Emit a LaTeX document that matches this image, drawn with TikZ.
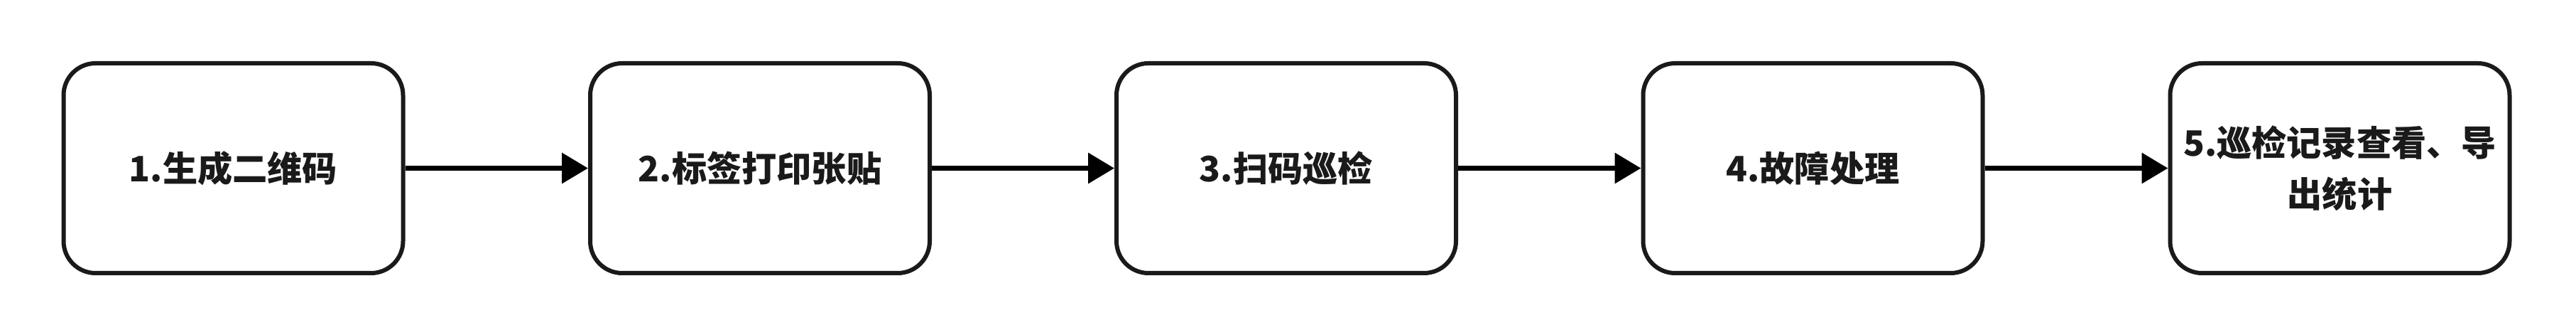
\documentclass[tikz,border=0pt]{standalone}
\usepackage{fontspec}
\setmainfont{Noto Sans CJK SC}
\usepackage{tikz}
\usetikzlibrary{arrows.meta, positioning}
\definecolor{boxline}{RGB}{26, 26, 26}

\begin{document}
\begin{tikzpicture}[
  stage/.style={draw=boxline, line width=0.06cm, rounded corners=0.45cm, fill=white,
                minimum width=4.78cm, minimum height=2.95cm, inner sep=2pt,
                text width=4.5cm, align=center, font=\fontsize{14}{20.5}\selectfont\bfseries,
                text=boxline},
  flow/.style={-{Triangle[length=0.37cm, width=0.42cm]}, line width=0.07cm, black},
]
\useasboundingbox (0,0) rectangle (36.27,4.71);

\node[stage] (gen)   at (3.285, 2.345) {1.生成二维码};
\node[stage] (label) at (10.700, 2.345) {2.标签打印张贴};
\node[stage] (scan)  at (18.110, 2.345) {3.扫码巡检};
\node[stage] (fault) at (25.525, 2.345) {4.故障处理};
\node[stage] (rec)   at (32.945, 2.345) {5.巡检记录查看、导\\出统计};

\draw[flow] (gen) -- (label);
\draw[flow] (label) -- (scan);
\draw[flow] (scan) -- (fault);
\draw[flow] (fault) -- (rec);
\end{tikzpicture}
\end{document}
